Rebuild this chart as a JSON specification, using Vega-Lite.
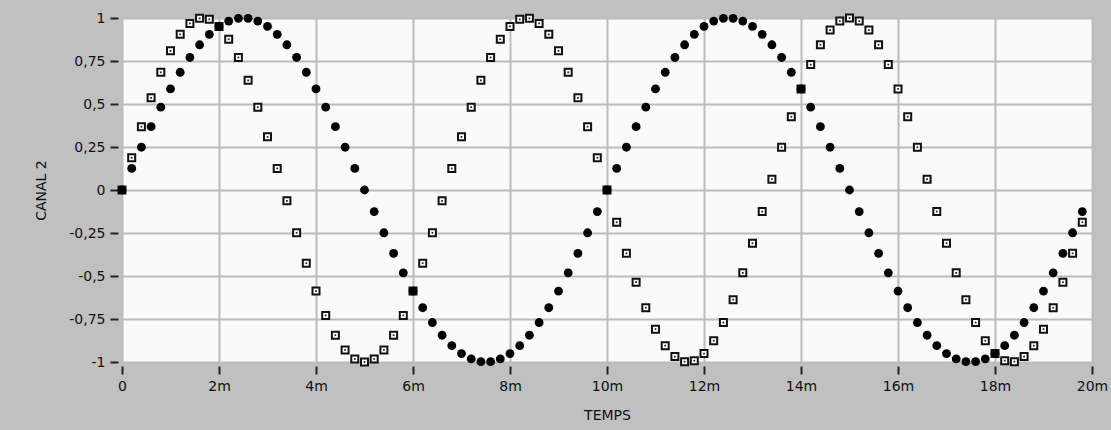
{
  "$schema": "https://vega.github.io/schema/vega-lite/v6.json",
  "width": 970,
  "height": 344,
  "autosize": {"type": "none"},
  "padding": {"left": 122, "top": 18, "right": 19, "bottom": 68},
  "background": "#c0c0c0",
  "config": {"view": {"fill": "#fafafa", "stroke": null}, "font": "DejaVu Sans"},
  "data": {"values": [
    {"t":0,"a":0,"b":0},{"t":0.2,"a":0.1253,"b":0.1874},{"t":0.4,"a":0.2487,"b":0.3681},{"t":0.6,"a":0.3681,"b":0.5358},{"t":0.8,"a":0.4818,"b":0.6845},
    {"t":1,"a":0.5878,"b":0.809},{"t":1.2,"a":0.6845,"b":0.9048},{"t":1.4,"a":0.7705,"b":0.9686},{"t":1.6,"a":0.8443,"b":0.998},{"t":1.8,"a":0.9048,"b":0.9921},
    {"t":2,"a":0.9511,"b":0.9511},{"t":2.2,"a":0.9823,"b":0.8763},{"t":2.4,"a":0.998,"b":0.7705},{"t":2.6,"a":0.998,"b":0.6374},{"t":2.8,"a":0.9823,"b":0.4818},
    {"t":3,"a":0.9511,"b":0.309},{"t":3.2,"a":0.9048,"b":0.1253},{"t":3.4,"a":0.8443,"b":-0.0628},{"t":3.6,"a":0.7705,"b":-0.2487},{"t":3.8,"a":0.6845,"b":-0.4258},
    {"t":4,"a":0.5878,"b":-0.5878},{"t":4.2,"a":0.4818,"b":-0.729},{"t":4.4,"a":0.3681,"b":-0.8443},{"t":4.6,"a":0.2487,"b":-0.9298},{"t":4.8,"a":0.1253,"b":-0.9823},
    {"t":5,"a":0,"b":-1},{"t":5.2,"a":-0.1253,"b":-0.9823},{"t":5.4,"a":-0.2487,"b":-0.9298},{"t":5.6,"a":-0.3681,"b":-0.8443},{"t":5.8,"a":-0.4818,"b":-0.729},
    {"t":6,"a":-0.5878,"b":-0.5878},{"t":6.2,"a":-0.6845,"b":-0.4258},{"t":6.4,"a":-0.7705,"b":-0.2487},{"t":6.6,"a":-0.8443,"b":-0.0628},{"t":6.8,"a":-0.9048,"b":0.1253},
    {"t":7,"a":-0.9511,"b":0.309},{"t":7.2,"a":-0.9823,"b":0.4818},{"t":7.4,"a":-0.998,"b":0.6374},{"t":7.6,"a":-0.998,"b":0.7705},{"t":7.8,"a":-0.9823,"b":0.8763},
    {"t":8,"a":-0.9511,"b":0.9511},{"t":8.2,"a":-0.9048,"b":0.9921},{"t":8.4,"a":-0.8443,"b":0.998},{"t":8.6,"a":-0.7705,"b":0.9686},{"t":8.8,"a":-0.6845,"b":0.9048},
    {"t":9,"a":-0.5878,"b":0.809},{"t":9.2,"a":-0.4818,"b":0.6845},{"t":9.4,"a":-0.3681,"b":0.5358},{"t":9.6,"a":-0.2487,"b":0.3681},{"t":9.8,"a":-0.1253,"b":0.1874},
    {"t":10,"a":0,"b":0},{"t":10.2,"a":0.1253,"b":-0.1874},{"t":10.4,"a":0.2487,"b":-0.3681},{"t":10.6,"a":0.3681,"b":-0.5358},{"t":10.8,"a":0.4818,"b":-0.6845},
    {"t":11,"a":0.5878,"b":-0.809},{"t":11.2,"a":0.6845,"b":-0.9048},{"t":11.4,"a":0.7705,"b":-0.9686},{"t":11.6,"a":0.8443,"b":-0.998},{"t":11.8,"a":0.9048,"b":-0.9921},
    {"t":12,"a":0.9511,"b":-0.9511},{"t":12.2,"a":0.9823,"b":-0.8763},{"t":12.4,"a":0.998,"b":-0.7705},{"t":12.6,"a":0.998,"b":-0.6374},{"t":12.8,"a":0.9823,"b":-0.4818},
    {"t":13,"a":0.9511,"b":-0.309},{"t":13.2,"a":0.9048,"b":-0.1253},{"t":13.4,"a":0.8443,"b":0.0628},{"t":13.6,"a":0.7705,"b":0.2487},{"t":13.8,"a":0.6845,"b":0.4258},
    {"t":14,"a":0.5878,"b":0.5878},{"t":14.2,"a":0.4818,"b":0.729},{"t":14.4,"a":0.3681,"b":0.8443},{"t":14.6,"a":0.2487,"b":0.9298},{"t":14.8,"a":0.1253,"b":0.9823},
    {"t":15,"a":0,"b":1},{"t":15.2,"a":-0.1253,"b":0.9823},{"t":15.4,"a":-0.2487,"b":0.9298},{"t":15.6,"a":-0.3681,"b":0.8443},{"t":15.8,"a":-0.4818,"b":0.729},
    {"t":16,"a":-0.5878,"b":0.5878},{"t":16.2,"a":-0.6845,"b":0.4258},{"t":16.4,"a":-0.7705,"b":0.2487},{"t":16.6,"a":-0.8443,"b":0.0628},{"t":16.8,"a":-0.9048,"b":-0.1253},
    {"t":17,"a":-0.9511,"b":-0.309},{"t":17.2,"a":-0.9823,"b":-0.4818},{"t":17.4,"a":-0.998,"b":-0.6374},{"t":17.6,"a":-0.998,"b":-0.7705},{"t":17.8,"a":-0.9823,"b":-0.8763},
    {"t":18,"a":-0.9511,"b":-0.9511},{"t":18.2,"a":-0.9048,"b":-0.9921},{"t":18.4,"a":-0.8443,"b":-0.998},{"t":18.6,"a":-0.7705,"b":-0.9686},{"t":18.8,"a":-0.6845,"b":-0.9048},
    {"t":19,"a":-0.5878,"b":-0.809},{"t":19.2,"a":-0.4818,"b":-0.6845},{"t":19.4,"a":-0.3681,"b":-0.5358},{"t":19.6,"a":-0.2487,"b":-0.3681},{"t":19.8,"a":-0.1253,"b":-0.1874}
  ]},
  "encoding": {
    "x": {
      "field": "t", "type": "quantitative",
      "scale": {"domain": [0, 20], "nice": false, "zero": false},
      "axis": {
        "title": "TEMPS",
        "values": [0, 2, 4, 6, 8, 10, 12, 14, 16, 18, 20],
        "labelExpr": "datum.value == 0 ? '0' : datum.value + 'm'",
        "grid": true, "gridColor": "#bcbcbc", "gridWidth": 2,
        "domain": false, "offset": 4,
        "tickSize": 8, "tickWidth": 2, "tickColor": "#222",
        "labelFontSize": 14, "labelColor": "#111", "labelPadding": 5, "labelFlush": false,
        "titleFontSize": 14, "titleFontWeight": "normal", "titleColor": "#111", "titlePadding": 15
      }
    }
  },
  "layer": [
    {
      "mark": {"type": "point", "shape": "square", "filled": true, "fill": "#ffffff", "stroke": "#111111", "strokeWidth": 2, "size": 49, "opacity": 1},
      "encoding": {
        "y": {
          "field": "b", "type": "quantitative",
          "scale": {"domain": [-1, 1], "nice": false},
          "axis": {
            "title": "CANAL 2",
            "values": [-1, -0.75, -0.5, -0.25, 0, 0.25, 0.5, 0.75, 1],
            "labelExpr": "replace(datum.value + '', '.', ',')",
            "grid": true, "gridColor": "#bcbcbc", "gridWidth": 2,
            "domain": false, "offset": 4,
            "tickSize": 8, "tickWidth": 2, "tickColor": "#222",
            "labelFontSize": 14, "labelColor": "#111", "labelPadding": 5, "labelFlush": false,
            "titleFontSize": 14, "titleFontWeight": "normal", "titleColor": "#111", "titlePadding": 20
          }
        }
      }
    },
    {
      "mark": {"type": "point", "shape": "square", "filled": true, "fill": "#222222", "size": 3, "opacity": 1},
      "encoding": {"y": {"field": "b", "type": "quantitative"}}
    },
    {
      "mark": {"type": "point", "shape": "circle", "filled": true, "fill": "#000000", "size": 78, "opacity": 1},
      "encoding": {"y": {"field": "a", "type": "quantitative"}}
    }
  ]
}
